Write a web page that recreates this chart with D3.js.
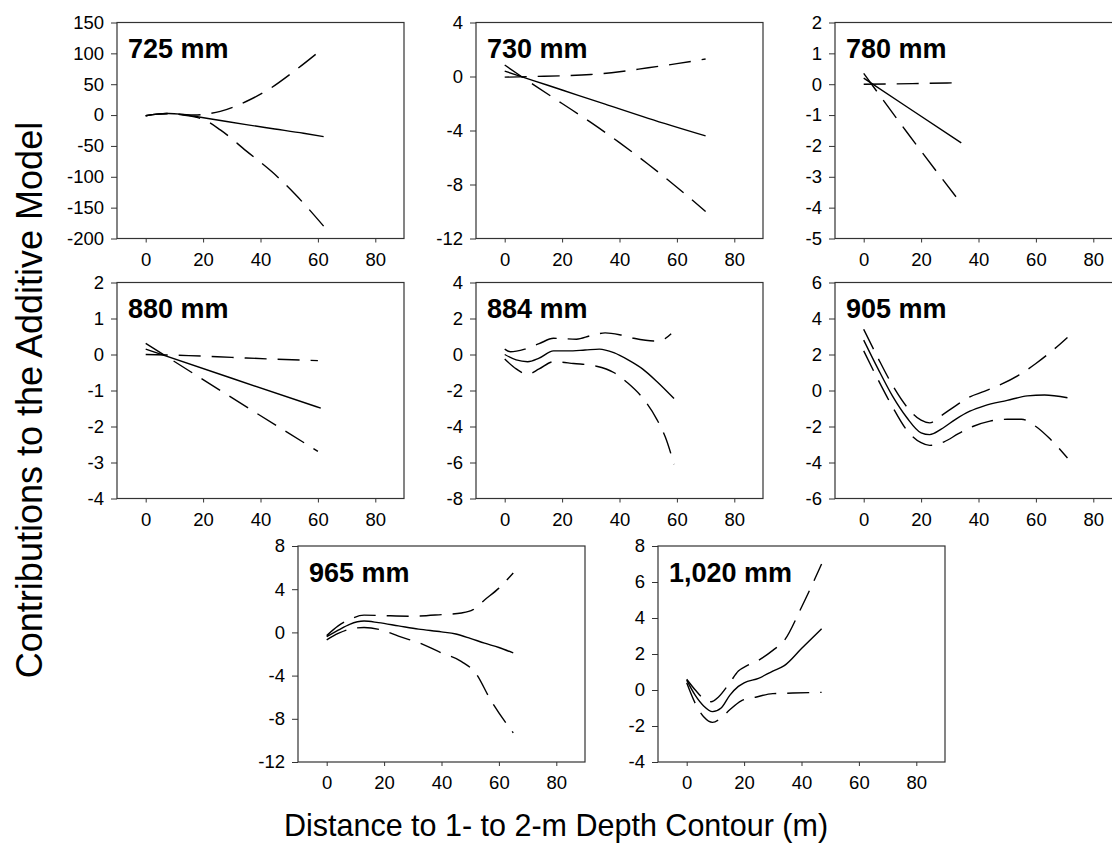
<!DOCTYPE html>
<html>
<head>
<meta charset="utf-8">
<script src="https://cdn.jsdelivr.net/npm/d3@7"></script>
<style>
  html, body { margin: 0; padding: 0; background: #fff; overflow: hidden; }
  svg { display: block; font-family: "Liberation Sans", Arial, Helvetica, sans-serif; }
</style>
</head>
<body>
<svg id="chart" width="1112" height="846"></svg>
<script>
// ---------- data ----------
const panelLabels = ["725 mm", "730 mm", "780 mm", "880 mm", "884 mm", "905 mm", "965 mm", "1,020 mm"];
const xTicks = [0, 20, 40, 60, 80];
const xDomain = [-10, 90];

const yTicks725 = [150, 100, 50, 0, -50, -100, -150, -200];
const yTicks730 = [4, 0, -4, -8, -12];
const yTicks780 = [2, 1, 0, -1, -2, -3, -4, -5];
const yTicks880 = [2, 1, 0, -1, -2, -3, -4];
const yTicks884 = [4, 2, 0, -2, -4, -6, -8];
const yTicks905 = [6, 4, 2, 0, -2, -4, -6];
const yTicks965 = [8, 4, 0, -4, -8, -12];
const yTicks1020 = [8, 6, 4, 2, 0, -2, -4];

// fitted contribution (solid) and confidence bounds (dashed), [distance, contribution]
const fit725 = [[0,-1],[4,1.5],[8,2.5],[12,1.5],[17,-2],[25,-8],[35,-15.5],[45,-22.5],[55,-29.5],[62,-35]];
const up725  = [[0,-1],[4,1.5],[8,2.5],[13,1],[17,0],[21,1.5],[26,6],[35,22],[43,42],[52,72],[61,105]];
const lo725  = [[0,-1],[4,1.5],[8,2.5],[13,0],[17,-3],[20,-7],[26,-24],[35,-58],[44,-92],[52,-128],[62,-180]];

const fit730 = [[0,0.4],[10,-0.3],[20,-1.0],[35,-2.05],[50,-3.1],[70,-4.4]];
const up730  = [[0,-0.05],[10,0.0],[20,0.05],[30,0.15],[40,0.35],[50,0.65],[60,0.95],[70,1.3]];
const lo730  = [[0,0.85],[10,-0.6],[20,-2.0],[30,-3.4],[40,-4.9],[50,-6.5],[60,-8.2],[70,-10.0]];

const fit780 = [[0,0.2],[15,-0.73],[34,-1.9]];
const up780  = [[0,0.0],[17,0.02],[34,0.05]];
const lo780  = [[0,0.35],[15,-1.55],[34,-3.87]];

const fit880 = [[0,0.15],[30,-0.66],[61,-1.49]];
const up880  = [[0,0.0],[15,-0.03],[30,-0.08],[45,-0.13],[60,-0.17]];
const lo880  = [[0,0.31],[30,-1.2],[60,-2.69]];

const fit884 = [[0,0],[4,-0.3],[8,-0.4],[12,-0.2],[17,0.2],[22,0.2],[28,0.25],[33,0.3],[38,0.1],[43,-0.3],[48,-0.8],[53,-1.5],[59,-2.45]];
const up884  = [[0,0.3],[2,0.15],[7,0.3],[12,0.6],[17,0.9],[25,0.85],[30,1.05],[35,1.2],[40,1.1],[45,0.9],[52,0.75],[56,0.9],[58,1.15]];
const lo884  = [[0,-0.25],[4,-0.8],[8,-1.1],[12,-0.8],[17,-0.4],[24,-0.5],[32,-0.65],[38,-1.0],[43,-1.6],[48,-2.4],[53,-3.6],[56,-4.6],[59,-6.1]];

const fit905 = [[0,2.8],[5,1.2],[10,-0.3],[15,-1.5],[20,-2.35],[23,-2.45],[27,-2.15],[32,-1.6],[37,-1.15],[42,-0.85],[50,-0.55],[57,-0.3],[63,-0.25],[71,-0.4]];
const up905  = [[0,3.4],[5,1.8],[10,0.3],[15,-0.9],[20,-1.65],[23,-1.8],[27,-1.4],[32,-0.85],[37,-0.35],[42,-0.05],[48,0.35],[54,0.85],[60,1.5],[66,2.25],[71,2.95]];
const lo905  = [[0,2.2],[5,0.6],[10,-0.9],[15,-2.2],[20,-2.9],[23,-3.05],[28,-2.85],[33,-2.4],[38,-2.0],[44,-1.7],[50,-1.6],[55,-1.6],[60,-2.0],[65,-2.7],[71,-3.75]];

const fit965 = [[0,-0.4],[4,0.2],[8,0.75],[13,1.05],[18,0.9],[25,0.6],[32,0.3],[40,0.05],[45,-0.15],[50,-0.55],[55,-1.0],[60,-1.4],[65,-1.9]];
const up965  = [[0,-0.3],[4,0.6],[8,1.2],[13,1.6],[20,1.55],[30,1.5],[40,1.65],[47,1.8],[51,2.1],[55,3.0],[60,4.1],[65,5.5]];
const lo965  = [[0,-0.7],[4,-0.1],[8,0.3],[13,0.45],[20,0.15],[25,-0.35],[32,-0.95],[40,-1.9],[47,-2.7],[52,-3.8],[57,-6.2],[65,-9.3]];

const fit1020 = [[0,0.55],[3,-0.3],[6,-0.9],[9,-1.2],[12,-1.0],[15,-0.3],[18,0.2],[20,0.4],[25,0.65],[30,1.05],[34,1.35],[40,2.3],[47,3.4]];
const up1020  = [[0,0.6],[3,0.0],[6,-0.5],[8.5,-0.65],[11,-0.4],[15,0.4],[18,1.05],[21,1.35],[25,1.65],[30,2.2],[34,2.75],[40,4.6],[47,7.0]];
const lo1020  = [[0,0.4],[3,-0.75],[6,-1.5],[9,-1.8],[12,-1.55],[15,-1.1],[19,-0.6],[24,-0.4],[30,-0.2],[37,-0.17],[47,-0.13]];

const yDomains = [[-200,150],[-12,4],[-5,2],[-4,2],[-8,4],[-6,6],[-12,8],[-4,8]];
const yTickSets = [yTicks725, yTicks730, yTicks780, yTicks880, yTicks884, yTicks905, yTicks965, yTicks1020];
const fits = [fit725, fit730, fit780, fit880, fit884, fit905, fit965, fit1020];
const uppers = [up725, up730, up780, up880, up884, up905, up965, up1020];
const lowers = [lo725, lo730, lo780, lo880, lo884, lo905, lo965, lo1020];

// ---------- layout ----------
const W = 287, H = 216;
const origins = [[117,22.5],[476,22.5],[835,22.5],[117,282.5],[476,282.5],[835,282.5],[298,546],[658,546]];

const svg = d3.select("#chart");
const fmt = d => String(d);

panelLabels.forEach((label, i) => {
  const [ox, oy] = origins[i];
  const g = svg.append("g").attr("transform", `translate(${ox},${oy})`);
  const x = d3.scaleLinear().domain(xDomain).range([0, W]);
  const y = d3.scaleLinear().domain(yDomains[i]).range([H, 0]);

  // axes
  const ya = g.append("g").call(d3.axisLeft(y).tickValues(yTickSets[i]).tickFormat(fmt).tickSize(6).tickPadding(7).tickSizeOuter(0));
  const xa = g.append("g").attr("transform", `translate(0,${H})`)
    .call(d3.axisBottom(x).tickValues(xTicks).tickFormat(fmt).tickSize(4).tickPadding(10).tickSizeOuter(0));
  [ya, xa].forEach(a => {
    a.selectAll("path.domain").remove();
    a.selectAll("line").attr("stroke", "#333").attr("stroke-width", 1);
    a.selectAll("text").attr("font-size", 18.5).attr("fill", "#000");
  });

  // frame
  g.append("rect").attr("x", 0).attr("y", 0).attr("width", W).attr("height", H)
    .attr("fill", "none").attr("stroke", "#333").attr("stroke-width", 1.2);

  const line = d3.line().x(d => x(d[0])).y(d => y(d[1])).curve(d3.curveMonotoneX);

  g.append("path").datum(uppers[i]).attr("d", line)
    .attr("fill", "none").attr("stroke", "#000").attr("stroke-width", 1.4).attr("stroke-dasharray", "22,11");
  g.append("path").datum(lowers[i]).attr("d", line)
    .attr("fill", "none").attr("stroke", "#000").attr("stroke-width", 1.4).attr("stroke-dasharray", "22,11");
  g.append("path").datum(fits[i]).attr("d", line)
    .attr("fill", "none").attr("stroke", "#000").attr("stroke-width", 1.4);

  g.append("text").attr("x", 11).attr("y", 35.5)
    .attr("font-size", 27).attr("font-weight", "bold").attr("fill", "#000")
    .text(label);
});

// axis titles
svg.append("text")
  .attr("transform", "translate(42,400) rotate(-90)")
  .attr("text-anchor", "middle").attr("font-size", 36).attr("fill", "#000")
  .text("Contributions to the Additive Model");

svg.append("text")
  .attr("x", 556).attr("y", 836)
  .attr("text-anchor", "middle").attr("font-size", 30.5).attr("fill", "#000")
  .text("Distance to 1- to 2-m Depth Contour (m)");
</script>
</body>
</html>
